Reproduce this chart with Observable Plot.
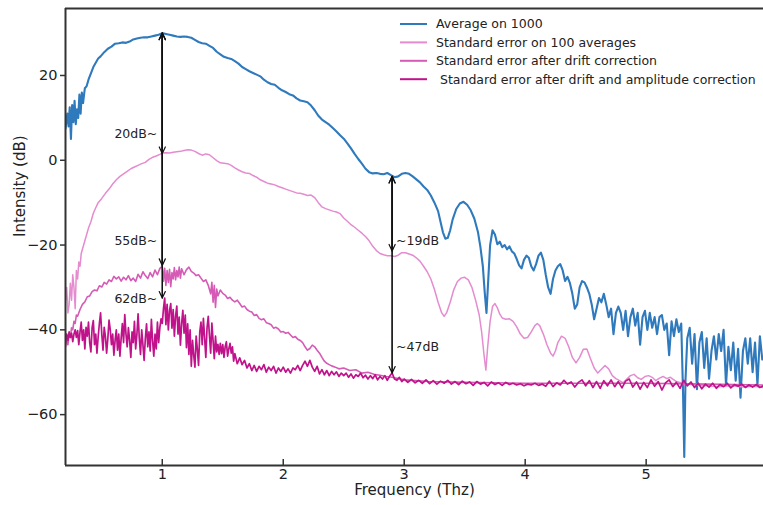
<!DOCTYPE html>
<html>
<head>
<meta charset="utf-8">
<script src="https://cdn.jsdelivr.net/npm/d3@7"></script>
<script src="https://cdn.jsdelivr.net/npm/@observablehq/plot@0.6"></script>
<style>
  html, body { margin: 0; padding: 0; background: #fff; }
  #chart { width: 763px; height: 505px; }
</style>
</head>
<body>
<div id="chart"></div>
<script>
// ---- tick values ----
const xTicks = [1, 2, 3, 4, 5];
const yTicks = [20, 0, -20, -40, -60];
const xDomain = [0.2, 5.97];
const yDomain = [-72, 35.8];

// ---- series names & colours ----
const seriesNames = [
  "Average on 1000",
  "Standard error on 100 averages",
  "Standard error after drift correction",
  " Standard error after drift and amplitude correction"
];
const seriesColors = ["#2f79bd", "#e48ccf", "#d55bb5", "#c0128a"];

// ---- Average on 1000 : [freq (THz), dB] ----
const avg1000 = [
[0.20,7.5],[0.215,11],[0.225,8],[0.235,12.5],[0.245,5],[0.255,13],[0.265,9],[0.275,14],[0.285,8.5],[0.295,12],
[0.305,10],[0.315,15.5],[0.325,11],[0.335,16],[0.345,13.5],[0.36,17],[0.375,17.5],[0.39,19],[0.41,20.5],[0.43,22],
[0.45,23],[0.47,24],[0.49,24.5],[0.52,25.5],[0.55,26.3],[0.58,26.8],[0.61,27.5],[0.64,27.6],[0.67,27.8],[0.70,27.7],
[0.73,28],[0.76,28.5],[0.79,28.7],[0.82,28.9],[0.85,29],[0.88,29],[0.91,29.2],[0.94,29.4],[0.97,29.6],[1.00,30],
[1.03,29.8],[1.06,29.6],[1.09,29.4],[1.12,29.2],[1.15,29.1],[1.18,29.2],[1.21,29.1],[1.24,28.9],[1.27,28.4],[1.30,27.9],
[1.33,27.6],[1.36,27.5],[1.39,27.0],[1.42,26.5],[1.45,25.6],[1.48,25.0],[1.51,24.4],[1.54,24.1],[1.57,23.9],[1.60,23.4],
[1.63,22.8],[1.66,22.0],[1.69,21.5],[1.72,21.0],[1.75,20.6],[1.78,20.2],[1.81,19.8],[1.84,19.0],[1.87,18.4],[1.90,18.0],
[1.93,17.8],[1.96,17.1],[1.99,16.5],[2.02,16.1],[2.05,15.6],[2.08,15.3],[2.11,14.6],[2.14,14.1],[2.17,13.9],[2.20,13.7],
[2.23,12.9],[2.26,11.8],[2.29,10.5],[2.32,9.6],[2.35,9.0],[2.38,8.4],[2.41,7.6],[2.44,6.8],[2.47,5.9],[2.50,5.1],
[2.53,4.0],[2.56,2.8],[2.59,1.5],[2.62,0.3],[2.65,-0.8],[2.68,-2.0],[2.71,-2.8],[2.74,-3.1],[2.77,-3.0],[2.80,-3.2],
[2.83,-3.3],[2.86,-3.0],[2.89,-3.5],[2.92,-4.0],[2.95,-3.8],[2.98,-3.2],[3.01,-3.0],[3.04,-3.2],[3.07,-3.8],[3.10,-4.5],
[3.13,-5.2],[3.16,-6.2],[3.19,-7.0],[3.22,-8.3],[3.25,-10.0],[3.28,-12.0],[3.30,-14.5],[3.32,-17.0],[3.34,-18.5],[3.36,-18.3],
[3.38,-16.5],[3.40,-14.0],[3.43,-11.5],[3.46,-10.2],[3.49,-9.8],[3.52,-10.5],[3.55,-11.8],[3.58,-13.8],[3.61,-17],[3.63,-20.5],
[3.65,-25],[3.665,-31],[3.68,-36],[3.695,-28],[3.71,-20],[3.73,-16.5],[3.75,-17.5],[3.77,-19.8],[3.79,-19.2],[3.81,-20.5],
[3.83,-20],[3.85,-21],[3.87,-20.3],[3.89,-21.5],[3.91,-22],[3.93,-23.3],[3.95,-24.8],[3.97,-25.5],[3.99,-23.5],[4.01,-22.5],
[4.03,-23],[4.05,-25],[4.07,-26],[4.09,-24.5],[4.11,-22.5],[4.13,-21.8],[4.15,-23.5],[4.17,-27],[4.19,-30],[4.21,-31.5],
[4.23,-28],[4.25,-26],[4.27,-25],[4.29,-24.5],[4.31,-26],[4.33,-28.5],[4.35,-27.5],[4.37,-29],[4.39,-31.5],[4.41,-35],
[4.43,-34],[4.45,-30],[4.47,-28.5],[4.49,-28.8],[4.51,-30],[4.53,-31.5],[4.55,-34],[4.57,-37.5],[4.59,-35],[4.61,-32.5],
[4.63,-33.5],[4.65,-31.5],[4.67,-34],[4.69,-37],[4.71,-35],[4.73,-41],[4.75,-36],[4.77,-34.5],[4.79,-36],[4.81,-40],
[4.83,-35.5],[4.85,-41.5],[4.87,-37],[4.89,-35],[4.91,-39],[4.93,-36],[4.95,-43.5],[4.97,-37],[4.99,-35.5],[5.01,-40],
[5.03,-36],[5.05,-39.5],[5.07,-37],[5.09,-41],[5.11,-37],[5.13,-36.5],[5.15,-40],[5.17,-38.5],[5.19,-46],[5.21,-38],
[5.23,-41.5],[5.25,-37.5],[5.27,-40.5],[5.29,-38.5],[5.305,-55],[5.315,-70],[5.325,-52],[5.34,-42],[5.36,-39.5],[5.38,-48],
[5.40,-41],[5.42,-54],[5.44,-43],[5.46,-40.5],[5.48,-49],[5.50,-42],[5.52,-51.5],[5.54,-45],[5.56,-41.5],[5.58,-47],
[5.60,-41],[5.62,-45],[5.64,-40],[5.66,-53],[5.68,-44],[5.70,-49.5],[5.72,-43],[5.74,-52],[5.76,-44.5],[5.78,-56],
[5.80,-45],[5.82,-42],[5.84,-48],[5.86,-42],[5.88,-50],[5.90,-43],[5.92,-53],[5.94,-41.5],[5.96,-47]
];

// ---- Standard error on 100 averages ----
const se100 = [
[0.20,-33],[0.21,-30],[0.22,-36],[0.23,-34],[0.24,-29],[0.25,-33],[0.26,-27],[0.27,-30],[0.28,-35],[0.29,-26],
[0.30,-28],[0.31,-24],[0.32,-25],[0.33,-22],[0.35,-20],[0.37,-18],[0.39,-16],[0.41,-14.5],[0.43,-12.5],[0.45,-11.2],
[0.47,-10],[0.50,-9],[0.53,-7.8],[0.56,-6.8],[0.59,-5.6],[0.62,-4.6],[0.65,-3.8],[0.68,-3.2],[0.71,-2.6],[0.74,-2.0],
[0.77,-1.6],[0.80,-1.2],[0.83,-0.8],[0.86,-0.5],[0.89,0.2],[0.92,0.7],[0.95,1.0],[0.98,1.4],[1.00,1.7],[1.03,1.8],
[1.06,1.7],[1.09,1.9],[1.12,2.0],[1.15,2.1],[1.18,2.3],[1.21,2.5],[1.24,2.4],[1.27,2.1],[1.30,1.6],[1.33,1.2],
[1.36,1.5],[1.39,1.3],[1.42,0.6],[1.45,-0.1],[1.48,-0.6],[1.51,-0.7],[1.54,-0.8],[1.57,-1.2],[1.60,-1.8],[1.63,-2.3],
[1.66,-2.7],[1.69,-3.0],[1.72,-3.1],[1.75,-3.6],[1.78,-4.0],[1.81,-4.6],[1.84,-5.0],[1.87,-5.4],[1.90,-5.6],[1.93,-5.8],
[1.96,-6.2],[1.99,-6.5],[2.02,-6.8],[2.05,-7.1],[2.08,-7.4],[2.11,-7.7],[2.14,-7.8],[2.17,-8.0],[2.20,-8.3],[2.23,-8.2],
[2.26,-8.8],[2.29,-10.0],[2.32,-11.0],[2.35,-11.4],[2.38,-11.7],[2.41,-12.0],[2.44,-12.2],[2.47,-12.6],[2.50,-13.6],[2.53,-14.4],
[2.56,-15.2],[2.59,-15.8],[2.62,-16.5],[2.65,-17.2],[2.68,-18.0],[2.71,-19.0],[2.74,-20.3],[2.77,-21.3],[2.80,-22.0],[2.83,-22.3],
[2.86,-22.5],[2.89,-22.5],[2.92,-22.7],[2.95,-22.4],[2.98,-21.8],[3.01,-21.8],[3.04,-22.1],[3.07,-22.4],[3.10,-23.0],[3.13,-23.8],
[3.16,-25.0],[3.19,-26.3],[3.22,-28.0],[3.25,-30.5],[3.28,-33.5],[3.31,-36.0],[3.33,-36.8],[3.35,-36.0],[3.38,-33.5],[3.41,-30.5],
[3.44,-28.6],[3.47,-27.8],[3.50,-27.6],[3.53,-28.2],[3.56,-30.0],[3.59,-33],[3.62,-36.5],[3.64,-40.5],[3.66,-46],[3.675,-49.5],
[3.69,-44],[3.71,-38],[3.73,-34.5],[3.75,-33.8],[3.77,-34.8],[3.79,-36.3],[3.81,-37.2],[3.84,-37.5],[3.87,-37.4],[3.90,-38.0],
[3.93,-39.3],[3.96,-41.0],[3.99,-42.0],[4.02,-41.8],[4.05,-40.5],[4.08,-39.0],[4.10,-38.5],[4.12,-39.0],[4.15,-41.0],[4.18,-43.5],
[4.21,-45.5],[4.23,-46.2],[4.25,-45.0],[4.27,-43.0],[4.30,-41.5],[4.33,-42.0],[4.36,-44.0],[4.39,-46.5],[4.42,-47.8],[4.45,-46.5],
[4.48,-44.6],[4.51,-44.5],[4.54,-46.8],[4.57,-49.0],[4.60,-50.2],[4.63,-49.3],[4.66,-48.4],[4.69,-49.2],[4.72,-50.8],[4.75,-51.5],
[4.78,-52],[4.81,-52.5],[4.84,-51.6],[4.87,-50.8],[4.90,-50.5],[4.93,-51.3],[4.96,-51.7],[4.99,-51.0],[5.02,-50.8],[5.05,-51.2],
[5.08,-52],[5.11,-51.4],[5.14,-51],[5.17,-51.5],[5.20,-51.2],[5.25,-52.2],[5.30,-52.6],[5.40,-53],[5.50,-53.2],[5.60,-53.4],
[5.70,-53.2],[5.80,-53.5],[5.90,-53.3],[5.97,-53.6]
];

// ---- Standard error after drift correction ----
const seDrift = [
[0.20,-44],[0.21,-42.5],[0.22,-43.5],[0.23,-41],[0.24,-41.8],[0.25,-39.5],[0.26,-40],[0.27,-38],[0.28,-38.5],[0.29,-36.5],
[0.30,-36.8],[0.32,-35.2],[0.34,-34],[0.36,-33.4],[0.38,-32.2],[0.40,-32],[0.42,-31],[0.44,-30.6],[0.46,-30.8],[0.48,-29.6],
[0.50,-29.9],[0.52,-28.8],[0.54,-29.2],[0.56,-28.2],[0.58,-28.6],[0.60,-27.4],[0.62,-28],[0.64,-27.5],[0.66,-28.5],[0.68,-27.6],
[0.70,-28.2],[0.72,-27.2],[0.74,-28.4],[0.76,-27.8],[0.78,-28.6],[0.80,-26.9],[0.82,-27.8],[0.84,-26.3],[0.86,-27.2],[0.88,-27.9],
[0.90,-26.5],[0.92,-27.5],[0.94,-25.9],[0.96,-27],[0.98,-25.5],[1.00,-25],[1.01,-28.5],[1.02,-25.5],[1.03,-29.5],[1.04,-26],
[1.05,-28.8],[1.06,-25.7],[1.07,-29.8],[1.08,-26.5],[1.09,-28],[1.10,-25.3],[1.11,-28.2],[1.12,-26],[1.13,-27.5],[1.14,-25.2],
[1.15,-27.8],[1.16,-25.6],[1.18,-27],[1.20,-25.8],[1.22,-25.2],[1.24,-26.2],[1.26,-26.6],[1.28,-27.2],[1.30,-27.0],[1.32,-27.8],
[1.34,-28.6],[1.36,-28.2],[1.38,-29.5],[1.40,-31.5],[1.41,-28.8],[1.42,-33.5],[1.43,-29.5],[1.44,-34.7],[1.45,-30.4],[1.46,-32],
[1.48,-30.6],[1.50,-31.4],[1.52,-31.8],[1.54,-32.6],[1.56,-32.3],[1.58,-33],[1.60,-33.4],[1.62,-33],[1.64,-33.8],[1.66,-34.6],
[1.68,-34.4],[1.70,-35.2],[1.72,-35.6],[1.74,-35.8],[1.76,-36.6],[1.78,-36.4],[1.80,-37.3],[1.82,-37.6],[1.84,-37.4],[1.86,-38.3],
[1.88,-38.5],[1.90,-38.8],[1.92,-39.6],[1.94,-39.4],[1.96,-39.8],[1.98,-40.5],[2.00,-40.4],[2.02,-40.8],[2.04,-40.6],[2.06,-41.2],
[2.08,-41.8],[2.10,-41.6],[2.12,-42.2],[2.14,-42.5],[2.16,-43.0],[2.18,-44.0],[2.20,-44.8],[2.22,-44.4],[2.24,-43.6],[2.26,-44.0],
[2.28,-44.8],[2.30,-45.5],[2.32,-46.5],[2.34,-47.4],[2.36,-47.9],[2.38,-48.2],[2.40,-48.5],[2.43,-48.8],[2.46,-49.2],[2.50,-49.0],
[2.55,-49.6],[2.60,-49.4],[2.65,-50.2],[2.70,-50],[2.75,-50.5],[2.80,-50.7],[2.85,-51],[2.90,-51.2],[3.00,-51.8],[3.20,-52.2],
[3.50,-52.4],[4.00,-52.6],[4.50,-52.6],[5.00,-52.6],[5.50,-52.8],[5.97,-53]
];

// ---- Standard error after drift and amplitude correction ----
const seDriftAmp = [
[0.20,-43],[0.21,-41],[0.22,-42.5],[0.23,-40.5],[0.24,-41.8],[0.25,-40.8],[0.26,-42.8],[0.27,-41],[0.28,-40],[0.29,-41.8],
[0.30,-40.2],[0.31,-43.5],[0.32,-40.5],[0.33,-38.2],[0.34,-42.5],[0.35,-40],[0.36,-44.5],[0.37,-39.4],[0.38,-41.5],[0.39,-38.2],
[0.40,-43],[0.41,-45.2],[0.42,-39.5],[0.43,-37.8],[0.44,-43.5],[0.45,-41],[0.46,-45.5],[0.47,-41.7],[0.48,-38.5],[0.49,-36],
[0.50,-41],[0.51,-44.8],[0.52,-39.4],[0.53,-41.6],[0.54,-45.5],[0.55,-42],[0.56,-37.7],[0.57,-40],[0.58,-43.5],[0.59,-41],
[0.60,-46],[0.61,-42.5],[0.62,-40],[0.63,-44.8],[0.64,-41],[0.65,-46.2],[0.66,-42],[0.67,-38.5],[0.68,-43],[0.69,-36.4],
[0.70,-41],[0.71,-44],[0.72,-39.5],[0.73,-42.5],[0.74,-46.5],[0.75,-40.5],[0.76,-43],[0.77,-38],[0.78,-44.5],[0.79,-41.2],
[0.80,-36.2],[0.81,-42],[0.82,-45.8],[0.83,-40],[0.84,-43.5],[0.85,-47.2],[0.86,-42],[0.87,-38.6],[0.88,-44],[0.89,-40.5],
[0.90,-45],[0.91,-37.5],[0.92,-42.6],[0.93,-46.2],[0.94,-41],[0.95,-44.5],[0.96,-38.2],[0.97,-43],[0.98,-39.5],[0.99,-37.4],
[1.00,-38.5],[1.01,-35],[1.02,-32.5],[1.03,-38.8],[1.04,-34],[1.05,-40],[1.06,-35.5],[1.07,-33.8],[1.08,-39.6],[1.09,-35.2],
[1.10,-41.5],[1.11,-36.8],[1.12,-34.4],[1.13,-41],[1.14,-37],[1.15,-43.6],[1.16,-38.5],[1.17,-35.4],[1.18,-40.8],[1.19,-36.5],
[1.20,-44.2],[1.21,-38.6],[1.22,-45.8],[1.23,-40],[1.24,-48.6],[1.25,-42.5],[1.26,-46],[1.27,-48.8],[1.28,-41.5],[1.29,-44.6],
[1.30,-48.4],[1.31,-40.5],[1.32,-38.2],[1.33,-43.5],[1.34,-37.3],[1.35,-42],[1.36,-46.5],[1.37,-39.5],[1.38,-36.8],[1.39,-41.4],
[1.40,-45.5],[1.41,-38.4],[1.42,-42.6],[1.43,-46.8],[1.44,-41.5],[1.45,-45.2],[1.46,-43.4],[1.47,-45.8],[1.48,-43.2],[1.49,-45.6],
[1.50,-43.5],[1.51,-46.5],[1.52,-44],[1.53,-42.8],[1.54,-46.2],[1.55,-44.5],[1.56,-43.2],[1.57,-45.5],[1.58,-44],[1.59,-47.4],
[1.60,-45.6],[1.62,-48],[1.64,-46.6],[1.66,-48.2],[1.68,-47.2],[1.70,-49],[1.72,-48],[1.74,-49.6],[1.76,-48.4],[1.78,-49.8],
[1.80,-48.6],[1.82,-49.4],[1.84,-48.2],[1.86,-50],[1.88,-48.8],[1.90,-49.6],[1.92,-48.6],[1.94,-50.2],[1.96,-49],[1.98,-49.8],
[2.00,-48.8],[2.02,-50],[2.04,-49.2],[2.06,-50.2],[2.08,-49],[2.10,-49.4],[2.12,-48.4],[2.14,-49.6],[2.16,-48.4],[2.18,-47.4],
[2.20,-48.6],[2.22,-47.2],[2.24,-48.8],[2.26,-49.8],[2.28,-48.6],[2.30,-50.4],[2.32,-49.4],[2.34,-50.6],[2.36,-49.6],[2.38,-50.8],
[2.40,-49.8],[2.42,-50.6],[2.44,-49.9],[2.46,-51],[2.48,-50.2],[2.50,-50.8],[2.52,-50.2],[2.54,-51.2],[2.56,-50.4],[2.58,-51.4],
[2.60,-50.6],[2.62,-51],[2.64,-50.2],[2.66,-51.3],[2.68,-50.7],[2.70,-51.6],[2.72,-50.8],[2.74,-51.5],[2.76,-50.6],[2.78,-51.8],
[2.80,-51],[2.82,-51.6],[2.84,-50.8],[2.86,-51.9],[2.88,-50.9],[2.90,-50.2],[2.92,-51.6],[2.94,-51.9],[2.96,-51.2],[2.98,-52.2],
[3.00,-51.6],[3.03,-52.4],[3.06,-51.7],[3.09,-52.5],[3.12,-51.9],[3.15,-52.6],[3.18,-51.8],[3.21,-52.7],[3.24,-52],[3.27,-52.8],
[3.30,-52.1],[3.33,-52.6],[3.36,-51.9],[3.39,-52.8],[3.42,-52.2],[3.45,-52.9],[3.48,-52.1],[3.51,-52.7],[3.54,-52.3],[3.57,-53.1],
[3.60,-52.2],[3.63,-52.8],[3.66,-52.4],[3.69,-53.2],[3.72,-52.3],[3.75,-52.9],[3.78,-52.5],[3.81,-53.1],[3.84,-52.4],[3.87,-52.9],
[3.90,-52.6],[3.93,-53],[3.96,-52.7],[3.99,-53.2],[4.02,-52.8],[4.05,-53],[4.08,-52.6],[4.11,-53.1],[4.14,-52.8],[4.17,-53.3],
[4.20,-52.1],[4.23,-53.4],[4.26,-52.5],[4.29,-53],[4.32,-51.9],[4.35,-52.8],[4.38,-52.3],[4.41,-53.5],[4.44,-52.4],[4.47,-51.8],
[4.50,-53.2],[4.53,-52],[4.56,-53.6],[4.59,-52.2],[4.62,-53.8],[4.65,-52],[4.68,-53.2],[4.71,-51.8],[4.74,-53.4],[4.77,-52.2],
[4.80,-53.7],[4.83,-52.1],[4.86,-51.6],[4.89,-53.5],[4.92,-52.3],[4.95,-54],[4.98,-52.4],[5.01,-53.6],[5.04,-51.8],[5.07,-53.3],
[5.10,-52.2],[5.13,-54.2],[5.16,-52.5],[5.19,-51.8],[5.22,-53.4],[5.25,-52.4],[5.28,-53.8],[5.31,-51.9],[5.34,-53.2],[5.37,-52.3],
[5.40,-53.6],[5.43,-52.6],[5.46,-53.9],[5.49,-52.8],[5.52,-53.5],[5.55,-52.6],[5.58,-53.8],[5.61,-52.9],[5.64,-53.4],[5.67,-52.6],
[5.70,-53.7],[5.73,-52.9],[5.76,-53.3],[5.79,-52.8],[5.82,-53.6],[5.85,-53],[5.88,-53.5],[5.91,-52.9],[5.94,-53.6],[5.97,-53.2]
];

// ---- annotations: double arrows [x, yTop, yBottom] and labels ----
const arrowSpans = [
  [1.0, 30.0, 1.6],
  [1.0, 30.0, -24.8],
  [1.0, 30.0, -32.5],
  [2.9, -3.8, -21.4],
  [2.9, -3.8, -50.2]
];
const annoLabels = [
  [1.0, 6.1, "20dB~", "end"],
  [1.0, -19.1, "55dB~", "end"],
  [1.0, -32.8, "62dB~", "end"],
  [2.9, -19.1, "~19dB", "start"],
  [2.9, -44.1, "~47dB", "start"]
];

const allSeries = [avg1000, se100, seDrift, seDriftAmp];
const lineWidths = [2.1, 1.5, 1.6, 1.7];

const arrows = arrowSpans.map(([x, y1, y2]) => ({x, y1, y2}));
const labels = annoLabels.map(([x, y, text, anchor]) => ({x, y, text, anchor}));

const lineMarks = allSeries.map((s, i) =>
  Plot.line(s, {x: d => d[0], y: d => d[1], stroke: seriesColors[i], strokeWidth: lineWidths[i], clip: true})
);

const plot = Plot.plot({
  width: 763,
  height: 505,
  marginLeft: 65,
  marginRight: 0,
  marginTop: 8,
  marginBottom: 40,
  style: {fontFamily: "DejaVu Sans, sans-serif", fontSize: "14.5px", color: "#222", background: "#fff"},
  x: {domain: xDomain},
  y: {domain: yDomain},
  marks: [
    ...lineMarks,
    // double-headed arrows
    Plot.arrow(arrows, {x1: "x", x2: "x", y1: "y1", y2: "y2", stroke: "#111", strokeWidth: 1.2, headLength: 9, headAngle: 50}),
    Plot.arrow(arrows, {x1: "x", x2: "x", y1: "y2", y2: "y1", stroke: "#111", strokeWidth: 1.2, headLength: 9, headAngle: 50}),
    Plot.text(labels.filter(d => d.anchor === "end"), {x: "x", y: "y", text: "text", textAnchor: "end", dx: -5, fontSize: 12.5, fill: "#222"}),
    Plot.text(labels.filter(d => d.anchor === "start"), {x: "x", y: "y", text: "text", textAnchor: "start", dx: 4, fontSize: 12.5, fill: "#222"}),
    // spines
    Plot.ruleX([xDomain[0]], {stroke: "#333", strokeWidth: 2}),
    Plot.ruleY([yDomain[0], yDomain[1]], {stroke: "#333", strokeWidth: 2}),
    // axes
    Plot.axisY({ticks: yTicks, tickSize: 5, tickPadding: 3, label: null, stroke: "#333", strokeWidth: 1.5}),
    Plot.axisX({ticks: xTicks, tickFormat: d3.format("d"), tickSize: -6, tickPadding: 9, label: null, stroke: "#333", strokeWidth: 1.5}),
    // axis titles
    Plot.text(["Intensity (dB)"], {frameAnchor: "left", dx: -45, rotate: -90, fontSize: 15, fill: "#222"}),
    Plot.text(["Frequency (Thz)"], {frameAnchor: "bottom", dy: 29, fontSize: 15, fill: "#222"})
  ]
});

document.getElementById("chart").appendChild(plot);

// ---- legend inside the plot area ----
const svg = d3.select(plot);
const lg = svg.append("g")
  .attr("font-family", "DejaVu Sans, sans-serif")
  .attr("font-size", 12.5)
  .attr("text-anchor", "start");
seriesNames.forEach((name, i) => {
  const yy = 24 + i * 18.4;
  lg.append("line").attr("x1", 400).attr("x2", 427).attr("y1", yy).attr("y2", yy)
    .attr("stroke", seriesColors[i]).attr("stroke-width", 2);
  lg.append("text").attr("x", 436).attr("y", yy).attr("dy", "0.35em")
    .attr("text-anchor", "start")
    .attr("fill", "#222").style("white-space", "pre").attr("xml:space", "preserve").text(name);
});
</script>
</body>
</html>
